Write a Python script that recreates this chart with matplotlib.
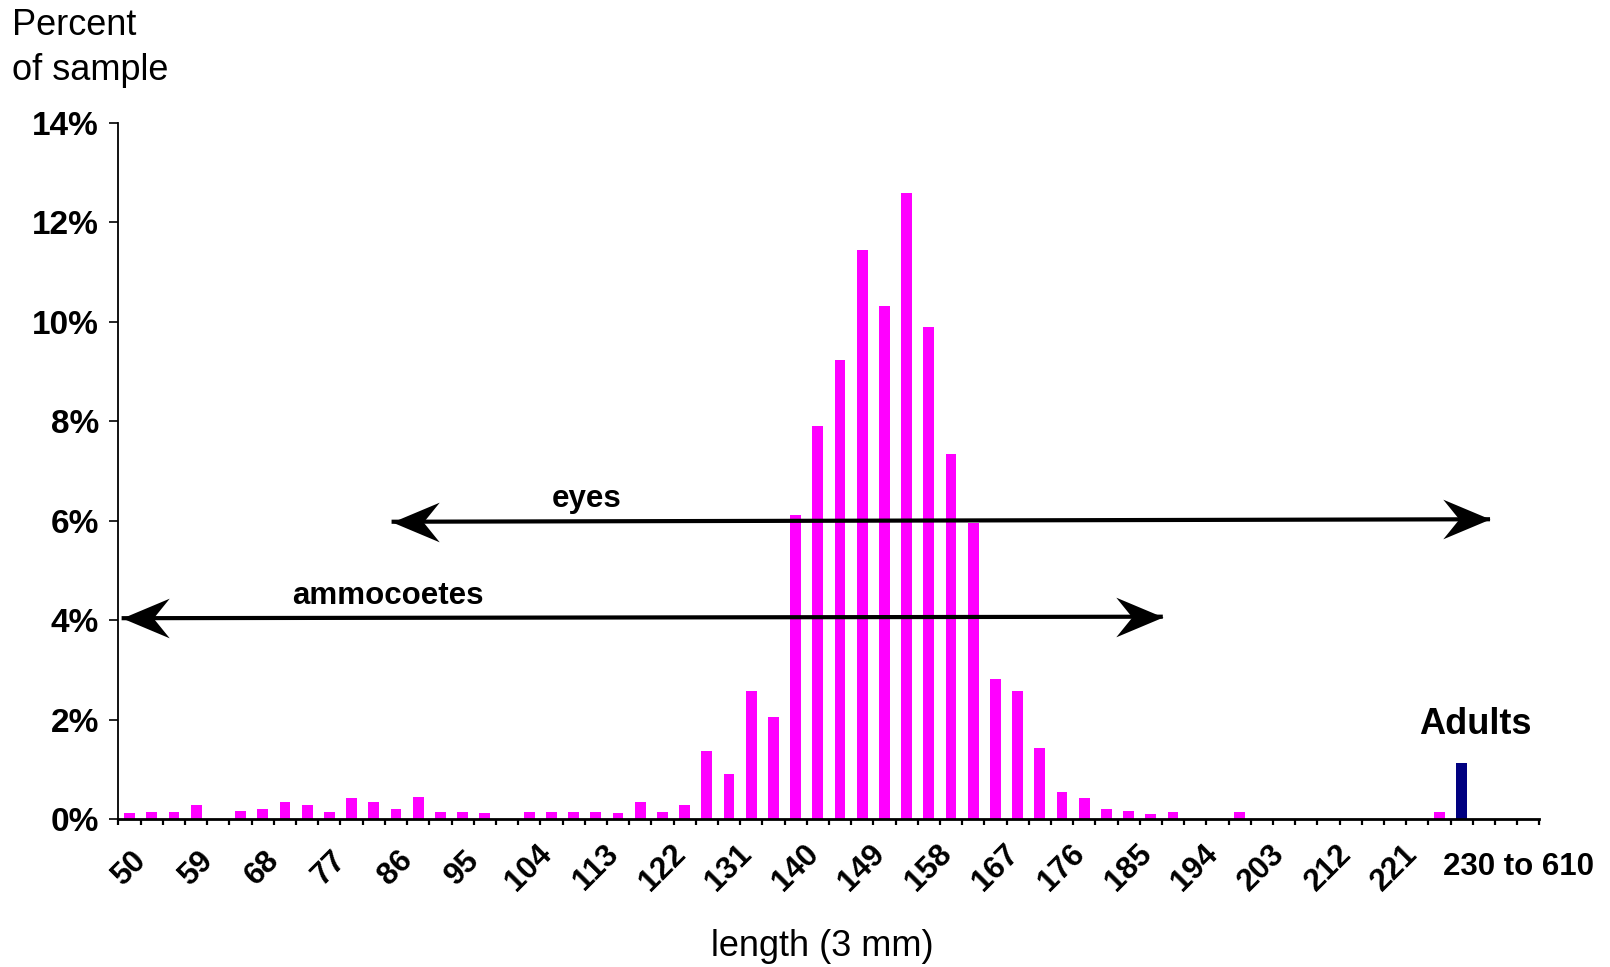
import matplotlib.pyplot as plt
import numpy as np
from matplotlib.path import Path

plt.rcParams['font.family'] = ['Liberation Sans', 'DejaVu Sans']

# lengths in 3 mm classes (lower bound of each class)
lengths = list(range(50, 230, 3))
percent = [0.13, 0.15, 0.15, 0.29, 0.0, 0.17, 0.21, 0.34, 0.29, 0.15,
           0.42, 0.34, 0.21, 0.44, 0.15, 0.15, 0.13, 0.0, 0.15, 0.15,
           0.15, 0.15, 0.13, 0.35, 0.15, 0.28, 1.37, 0.91, 2.58, 2.05,
           6.12, 7.91, 9.23, 11.45, 10.31, 12.60, 9.89, 7.34, 5.96, 2.82,
           2.58, 1.42, 0.55, 0.43, 0.21, 0.17, 0.11, 0.15, 0.0, 0.0,
           0.15, 0.0, 0.0, 0.0, 0.0, 0.0, 0.0, 0.0, 0.0, 0.15]
adult_label = "230 to 610"
adult_percent = 1.13
n_slots = 64

y_ticks = [0, 2, 4, 6, 8, 10, 12, 14]

# arrow ranges (x in class slots, y in percent)
eyes_x = [11.8, 61.28]
eyes_y = [5.98, 6.03]
ammo_x = [-0.36, 46.54]
ammo_y = [4.04, 4.07]

fig = plt.figure(figsize=(16.1, 9.67), dpi=100)
ax = fig.add_axes([0.0736, 0.1530, 0.8825, 0.7198])

x = np.arange(len(lengths))
ax.bar(x, percent, width=0.48, color='#FF00FF', zorder=2)
ax.bar(len(lengths), adult_percent, width=0.48, color='#000080', zorder=2)

ax.set_xlim(-0.5, n_slots - 0.5)
ax.set_ylim(0, 14)

for s in ['top', 'right']:
    ax.spines[s].set_visible(False)
ax.spines['bottom'].set_linewidth(2.0)
ax.spines['left'].set_linewidth(1.3)

# x ticks: marks at class boundaries, labels every 9 mm
ax.set_xticks(np.arange(-0.5, n_slots, 1), minor=True)
ax.set_xticks(x[::3])
ax.set_xticklabels([str(v) for v in lengths[::3]], fontsize=22.5, fontweight='bold')
ax.tick_params(axis='x', which='minor', length=4.5, width=1.6, direction='out')
ax.tick_params(axis='x', which='major', length=0, pad=35)
plt.setp(ax.get_xticklabels(), rotation=45, ha='center', va='center')

ax.set_yticks(y_ticks)
ax.set_yticklabels([f"{v}%" for v in y_ticks], fontsize=24, fontweight='bold')
ax.tick_params(axis='y', length=6.5, width=1.2, pad=7.5)

ax.text(len(lengths) - 0.84, -0.069, adult_label, transform=ax.get_xaxis_transform(),
        ha='left', va='center', fontsize=22.5, fontweight='bold')

# stealth-style arrow heads as custom markers (tip at the marker origin)
head_r = Path([(0, 0), (-1, 0.42), (-0.66, 0), (-1, -0.42), (0, 0)],
              [Path.MOVETO, Path.LINETO, Path.LINETO, Path.LINETO, Path.CLOSEPOLY])
head_l = Path([(0, 0), (1, 0.42), (0.66, 0), (1, -0.42), (0, 0)],
              [Path.MOVETO, Path.LINETO, Path.LINETO, Path.LINETO, Path.CLOSEPOLY])

for ax_x, ax_y in [(eyes_x, eyes_y), (ammo_x, ammo_y)]:
    ax.plot(ax_x, ax_y, color='black', lw=3, solid_capstyle='butt', zorder=3)
    ax.plot(ax_x[0], ax_y[0], marker=head_l, markersize=68, color='black',
            markeredgewidth=0, zorder=4)
    ax.plot(ax_x[1], ax_y[1], marker=head_r, markersize=68, color='black',
            markeredgewidth=0, zorder=4)

ax.text(20.6, 6.28, 'eyes', ha='center', va='baseline', fontsize=22.5, fontweight='bold')
ax.text(11.64, 4.33, 'ammocoetes', ha='center', va='baseline', fontsize=22.5, fontweight='bold')
ax.text(60.6, 1.71, 'Adults', ha='center', va='baseline', fontsize=26, fontweight='bold')

fig.text(12 / 1610, 1 - 35 / 967, 'Percent', ha='left', va='baseline', fontsize=26)
fig.text(12 / 1610, 1 - 80 / 967, 'of sample', ha='left', va='baseline', fontsize=26)
fig.text(822 / 1610, 1 - 956 / 967, 'length (3 mm)', ha='center', va='baseline', fontsize=26)

fig.savefig('out.png', dpi=100)
